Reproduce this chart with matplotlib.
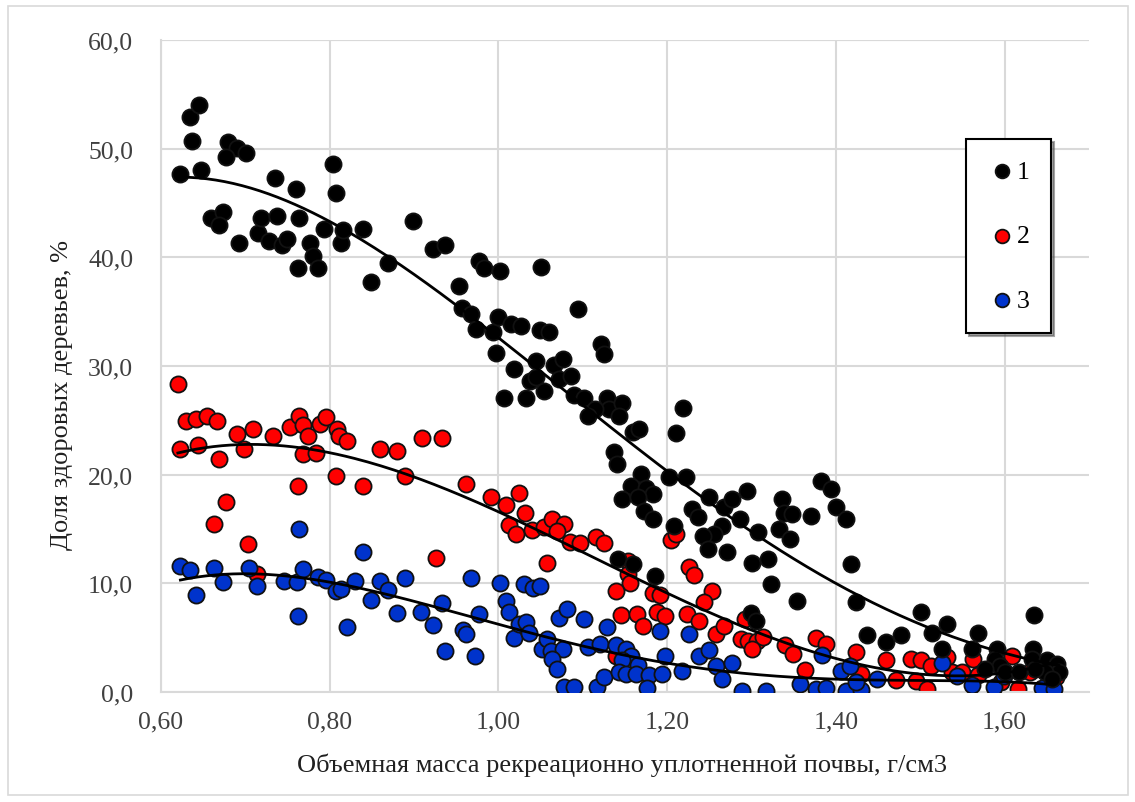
import numpy as np
import matplotlib
matplotlib.use("Agg")
import matplotlib.pyplot as plt
from matplotlib.ticker import FuncFormatter, MultipleLocator
from matplotlib.patches import Rectangle

plt.rcParams['font.family'] = ['Liberation Serif', 'DejaVu Serif']

# series 1 (black)
x1 = [0.623, 0.634, 0.645, 0.637, 0.648, 0.680, 0.690, 0.677, 0.701, 0.735,
      0.760, 0.804, 0.807, 0.659, 0.674, 0.669, 0.693, 0.715, 0.719, 0.738,
      0.728, 0.744, 0.749, 0.764, 0.777, 0.780, 0.786, 0.762, 0.793, 0.813,
      0.816, 0.839, 0.849, 0.869, 0.899, 0.922, 0.937, 0.977, 0.983, 1.002,
      1.051, 0.953, 0.957, 0.968, 0.973, 0.993, 0.999, 1.015, 1.027, 1.049,
      1.060, 1.094, 0.997, 1.018, 1.006, 1.033, 1.045, 1.037, 1.044, 1.054,
      1.066, 1.076, 1.072, 1.086, 1.121, 1.125, 1.089, 1.101, 1.129, 1.131,
      1.147, 1.143, 1.114, 1.106, 1.159, 1.167, 1.210, 1.219, 1.137, 1.141,
      1.169, 1.157, 1.175, 1.183, 1.147, 1.165, 1.173, 1.183, 1.202, 1.222,
      1.250, 1.230, 1.236, 1.267, 1.265, 1.256, 1.242, 1.248, 1.208, 1.271,
      1.142, 1.159, 1.185, 1.277, 1.295, 1.286, 1.308, 1.301, 1.319, 1.323,
      1.354, 1.299, 1.305, 1.336, 1.338, 1.348, 1.333, 1.345, 1.370, 1.382,
      1.394, 1.400, 1.412, 1.418, 1.424, 1.437, 1.459, 1.477, 1.501, 1.514,
      1.532, 1.526, 1.568, 1.561, 1.591, 1.635, 1.634, 1.589, 1.595, 1.601,
      1.632, 1.650, 1.662, 1.664, 1.648, 1.636, 1.617, 1.577, 1.656]
y1 = [47.7, 52.9, 54.0, 50.7, 48.0, 50.6, 50.1, 49.2, 49.6, 47.3,
      46.3, 48.6, 45.9, 43.6, 44.2, 43.0, 41.3, 42.2, 43.6, 43.8,
      41.5, 41.1, 41.7, 43.6, 41.3, 40.1, 39.0, 39.0, 42.6, 41.3,
      42.5, 42.6, 37.7, 39.5, 43.3, 40.8, 41.1, 39.7, 39.0, 38.7,
      39.1, 37.4, 35.3, 34.8, 33.4, 33.1, 34.5, 33.9, 33.7, 33.3,
      33.1, 35.2, 31.2, 29.7, 27.1, 27.1, 30.5, 28.6, 29.0, 27.7,
      30.1, 30.6, 28.8, 29.1, 32.0, 31.1, 27.3, 27.1, 27.1, 26.0,
      26.6, 25.4, 26.0, 25.4, 23.9, 24.2, 23.8, 26.1, 22.1, 21.0,
      20.1, 19.0, 18.8, 18.2, 17.8, 17.9, 16.7, 15.9, 19.8, 19.8,
      17.9, 16.8, 16.1, 17.0, 15.3, 14.5, 14.4, 13.2, 15.3, 12.9,
      12.2, 11.8, 10.7, 17.8, 18.5, 15.9, 14.7, 11.9, 12.2, 9.9,
      8.4, 7.3, 6.5, 17.8, 16.5, 16.4, 15.0, 14.1, 16.2, 19.4,
      18.7, 17.0, 15.9, 11.8, 8.3, 5.2, 4.6, 5.2, 7.4, 5.4,
      6.3, 4.0, 5.4, 4.0, 4.0, 7.1, 4.0, 3.0, 2.4, 1.8,
      3.0, 2.9, 2.6, 1.8, 1.8, 2.1, 1.8, 2.1, 1.2]

# series 2 (red)
x2 = [0.620, 0.623, 0.630, 0.642, 0.655, 0.666, 0.644, 0.669, 0.690, 0.709,
      0.698, 0.733, 0.753, 0.763, 0.768, 0.774, 0.768, 0.784, 0.788, 0.795,
      0.809, 0.811, 0.820, 0.807, 0.839, 0.762, 0.860, 0.880, 0.889, 0.909,
      0.933, 0.677, 0.663, 0.703, 0.714, 0.926, 0.962, 0.991, 1.009, 1.024,
      1.031, 1.012, 1.021, 1.040, 1.054, 1.064, 1.078, 1.069, 1.085, 1.097,
      1.116, 1.125, 1.057, 1.153, 1.154, 1.156, 1.139, 1.183, 1.191, 1.145,
      1.164, 1.171, 1.188, 1.197, 1.204, 1.211, 1.226, 1.232, 1.253, 1.244,
      1.223, 1.238, 1.258, 1.267, 1.139, 1.292, 1.287, 1.296, 1.307, 1.314,
      1.301, 1.340, 1.349, 1.376, 1.388, 1.363, 1.424, 1.430, 1.459, 1.489,
      1.501, 1.513, 1.471, 1.495, 1.508, 1.532, 1.538, 1.549, 1.562, 1.568,
      1.609, 1.616, 1.630, 1.661, 1.596]
y2 = [28.3, 22.4, 24.9, 25.1, 25.4, 24.9, 22.7, 21.4, 23.7, 24.2,
      22.4, 23.6, 24.4, 25.4, 24.6, 23.6, 21.9, 22.0, 24.7, 25.3,
      24.2, 23.6, 23.1, 19.9, 19.0, 19.0, 22.4, 22.2, 19.9, 23.4,
      23.4, 17.5, 15.5, 13.6, 10.9, 12.3, 19.1, 17.9, 17.2, 18.3,
      16.5, 15.4, 14.5, 14.9, 15.2, 15.9, 15.5, 14.8, 13.8, 13.7,
      14.3, 13.7, 11.9, 12.1, 10.9, 10.0, 9.3, 9.1, 8.9, 7.1,
      7.2, 6.1, 7.4, 7.0, 14.0, 14.5, 11.5, 10.8, 9.3, 8.3,
      7.2, 6.5, 5.3, 6.1, 3.3, 6.7, 4.9, 4.7, 4.7, 5.1,
      4.0, 4.3, 3.5, 5.0, 4.4, 2.0, 3.7, 1.7, 2.9, 3.0,
      2.9, 2.4, 1.1, 1.0, 0.3, 3.2, 1.8, 1.8, 3.0, 1.6,
      3.3, 0.3, 1.8, 1.4, 0.9]

# series 3 (blue)
x3 = [0.623, 0.634, 0.642, 0.663, 0.674, 0.704, 0.714, 0.746, 0.761, 0.768,
      0.763, 0.762, 0.786, 0.795, 0.808, 0.813, 0.820, 0.830, 0.839, 0.849,
      0.860, 0.869, 0.880, 0.889, 0.908, 0.922, 0.933, 0.937, 0.958, 0.962,
      0.972, 0.968, 0.977, 1.002, 1.009, 1.012, 1.030, 1.041, 1.049, 1.018,
      1.024, 1.033, 1.036, 1.052, 1.057, 1.062, 1.076, 1.064, 1.069, 1.072,
      1.081, 1.101, 1.129, 1.106, 1.120, 1.078, 1.089, 1.117, 1.125, 1.139,
      1.151, 1.157, 1.147, 1.166, 1.143, 1.151, 1.163, 1.179, 1.176, 1.191,
      1.194, 1.198, 1.217, 1.226, 1.238, 1.250, 1.258, 1.265, 1.277, 1.289,
      1.317, 1.357, 1.376, 1.388, 1.383, 1.406, 1.417, 1.412, 1.430, 1.424,
      1.449, 1.526, 1.543, 1.561, 1.587, 1.599, 1.644, 1.658]
y3 = [11.6, 11.2, 8.9, 11.4, 10.1, 11.4, 9.8, 10.2, 10.1, 11.3,
      15.0, 7.0, 10.6, 10.3, 9.3, 9.5, 6.0, 10.2, 12.9, 8.5,
      10.2, 9.4, 7.3, 10.5, 7.4, 6.2, 8.2, 3.8, 5.7, 5.3,
      3.3, 10.5, 7.2, 10.0, 8.4, 7.4, 9.9, 9.6, 9.8, 5.0,
      6.3, 6.4, 5.4, 4.0, 4.9, 3.8, 4.0, 3.0, 2.1, 6.8,
      7.6, 6.7, 6.0, 4.1, 4.4, 0.5, 0.5, 0.5, 1.4, 4.3,
      4.0, 3.3, 2.9, 2.5, 1.8, 1.7, 1.7, 1.6, 0.4, 5.6,
      1.7, 3.3, 1.9, 5.3, 3.3, 3.9, 2.4, 1.2, 2.7, 0.1,
      0.1, 0.7, 0.3, 0.4, 3.4, 1.9, 2.4, 0.1, 0.2, 0.9,
      1.2, 2.7, 1.5, 0.6, 0.5, 1.5, 0.4, 0.3]

labels = ['1', '2', '3']
colors = ['#000000', '#FF0000', '#0033CC']

fig = plt.figure(figsize=(11.35, 8.03), dpi=100)
ax = fig.add_axes([161/1135, 1-693/803, 928/1135, 652/803])

# outer chart border
fig.patches.append(Rectangle((8/1135, 1-796/803), 1120/1135, 789/803,
                             transform=fig.transFigure, fill=False,
                             edgecolor='#D9D9D9', linewidth=1.2))

series = [(x2, y2, colors[1], labels[1], 2),
          (x3, y3, colors[2], labels[2], 3),
          (x1, y1, colors[0], labels[0], 4)]
handles = {}
for xs, ys, c, lab, z in series:
    h = ax.scatter(xs, ys, s=135, c=c, edgecolors='#111111', linewidths=1.3,
                   zorder=z, label=lab)
    handles[lab] = h

# polynomial trend lines
for xs, ys in [(x1, y1), (x2, y2), (x3, y3)]:
    xs = np.array(xs)
    coef = np.polyfit(xs, ys, 4)
    xx = np.linspace(xs.min(), xs.max(), 200)
    ax.plot(xx, np.polyval(coef, xx), color='black', linewidth=2.0, zorder=6)

ax.set_xlim(0.6, 1.7)
ax.set_ylim(0, 60)
ax.xaxis.set_major_locator(MultipleLocator(0.2))
ax.yaxis.set_major_locator(MultipleLocator(10))
ax.xaxis.set_major_formatter(FuncFormatter(lambda v, p: f"{v:.2f}".replace('.', ',')))
ax.yaxis.set_major_formatter(FuncFormatter(lambda v, p: f"{v:.1f}".replace('.', ',')))
ax.grid(True, color='#D9D9D9', linewidth=1.5, zorder=0)
ax.set_axisbelow(True)
for sp in ['top', 'right']:
    ax.spines[sp].set_visible(False)
for sp in ['left', 'bottom']:
    ax.spines[sp].set_color('#D9D9D9')
    ax.spines[sp].set_linewidth(1.5)
ax.tick_params(length=0, labelsize=18.5, colors='#404040', pad=13)
ax.tick_params(axis='y', pad=20)
# top line of plot area
ax.axhline(60, color='#D9D9D9', linewidth=1.5, zorder=0)

ax.set_xlabel('Объемная масса рекреационно уплотненной почвы, г/см3',
              fontsize=19, color='#202020')
ax.set_ylabel('Доля здоровых деревьев, %', fontsize=19, color='#202020')
ax.xaxis.set_label_coords(0.497, -0.093)
ax.yaxis.set_label_coords(-0.095, 0.457)

leg = fig.legend([handles[l] for l in labels], labels, loc='upper left',
                 bbox_to_anchor=(966/1135, 1-140/803), borderaxespad=0,
                 fontsize=18.5, handlelength=1.17, handletextpad=0.0,
                 borderpad=0.82, labelspacing=1.61, markerscale=0.85,
                 fancybox=False, shadow=True, framealpha=1)
leg.get_frame().set_edgecolor('black')
leg.get_frame().set_linewidth(1.5)

fig.savefig('out.png', dpi=100, facecolor='white')
